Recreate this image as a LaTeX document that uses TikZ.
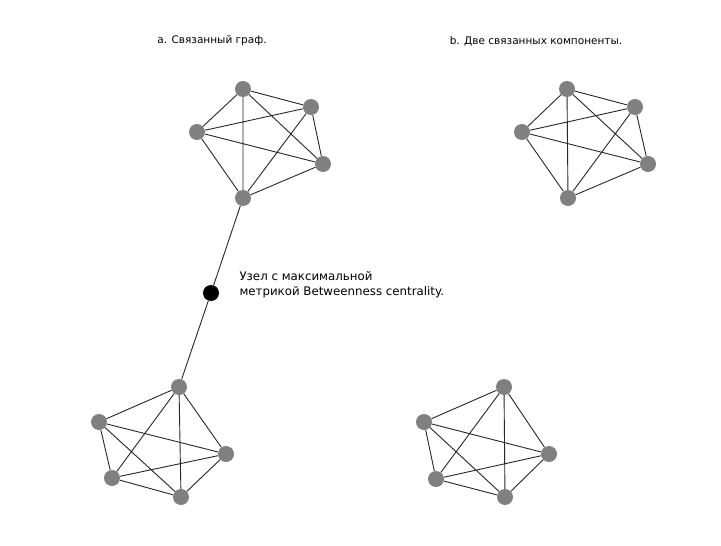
\documentclass[tikz,border=0pt]{standalone}
\usepackage{fontspec}
\setmainfont{DejaVu Sans}
\usepackage{tikz}
\usetikzlibrary{positioning}
\tikzset{
  vx/.style={circle, fill=gray, inner sep=0pt, minimum size=16pt},
  hub/.style={circle, fill=black, inner sep=0pt, minimum size=16pt},
  ed/.style={draw=black!85, line width=0.9pt},
  ttl/.style={font=\fontsize{10.5}{12}\selectfont, anchor=center},
  note/.style={font=\fontsize{11.8}{15}\selectfont, align=left, anchor=west},
}
\begin{document}
\begin{tikzpicture}[x=1pt, y=-1pt]
\useasboundingbox (0,0) rectangle (721,546);
\node[ttl] (ta) at (212,41) {a. Связанный граф.};
\node[ttl] (tb) at (536,41) {b. Две связанных компоненты.};
% connected graph, upper part
\node[vx] (a1) at (243,89) {};
\node[vx] (a2) at (311,107) {};
\node[vx] (a3) at (197,132) {};
\node[vx] (a4) at (323,164) {};
\node[vx] (a5) at (243,198) {};
% connected graph, lower part
\node[vx] (c1) at (179,387) {};
\node[vx] (c2) at (99,422) {};
\node[vx] (c3) at (226,454) {};
\node[vx] (c4) at (112,478) {};
\node[vx] (c5) at (181,497) {};
% bridge node
\node[hub] (m) at (211,293) {};
\node[note] (lbl) at (236,285) {Узел с максимальной\\метрикой Betweenness centrality.};
% two components
\node[vx] (b1) at (567,89) {};
\node[vx] (b2) at (635,107) {};
\node[vx] (b3) at (522,132) {};
\node[vx] (b4) at (648,164) {};
\node[vx] (b5) at (568,198) {};
\node[vx] (d1) at (504,387) {};
\node[vx] (d2) at (424,422) {};
\node[vx] (d3) at (549,454) {};
\node[vx] (d4) at (436,479) {};
\node[vx] (d5) at (505,497) {};
% cliques
\draw[ed] (a1)--(a2) (a1)--(a3) (a1)--(a4) (a1)--(a5) (a2)--(a3)
          (a2)--(a4) (a2)--(a5) (a3)--(a4) (a3)--(a5) (a4)--(a5);
\draw[ed] (c1)--(c2) (c1)--(c3) (c1)--(c4) (c1)--(c5) (c2)--(c3)
          (c2)--(c4) (c2)--(c5) (c3)--(c4) (c3)--(c5) (c4)--(c5);
\draw[ed] (b1)--(b2) (b1)--(b3) (b1)--(b4) (b1)--(b5) (b2)--(b3)
          (b2)--(b4) (b2)--(b5) (b3)--(b4) (b3)--(b5) (b4)--(b5);
\draw[ed] (d1)--(d2) (d1)--(d3) (d1)--(d4) (d1)--(d5) (d2)--(d3)
          (d2)--(d4) (d2)--(d5) (d3)--(d4) (d3)--(d5) (d4)--(d5);
% bridge
\draw[ed] (a5)--(m);
\draw[ed] (m)--(c1);
\end{tikzpicture}
\end{document}
